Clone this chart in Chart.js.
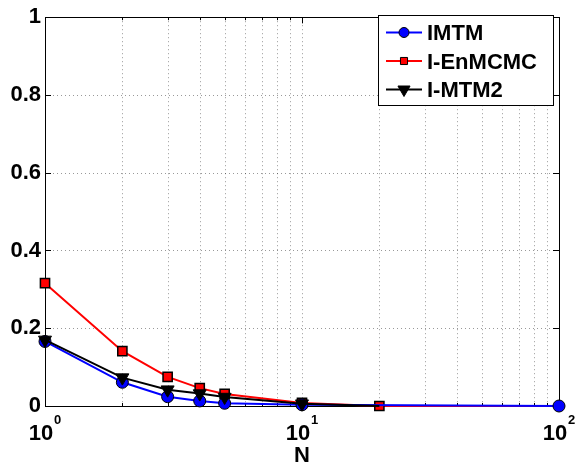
<!DOCTYPE html>
<html>
<head>
<meta charset="utf-8">
<script src="https://cdn.jsdelivr.net/npm/chart.js@4"></script>
<style>
  html, body { margin: 0; padding: 0; background: #fff; }
  #wrap { width: 577px; height: 468px; }
</style>
</head>
<body>
<div id="wrap"><canvas id="myChart"></canvas></div>
<script>
// data
let imtmN = [1, 2, 3, 4, 5, 10, 100];
let imtmVals = [0.166, 0.061, 0.024, 0.013, 0.007, 0.003, 0];
let enmcmcN = [1, 2, 3, 4, 5, 10, 20, 100];
let enmcmcVals = [0.316, 0.141, 0.075, 0.046, 0.031, 0.008, 0, 0];
let mtm2N = [1, 2, 3, 4, 5, 10, 20];
let mtm2Vals = [0.170, 0.073, 0.042, 0.032, 0.023, 0.006, 0];

let seriesNames = ['IMTM', 'I-EnMCMC', 'I-MTM2'];
let xDecades = [1, 10, 100];
let xExponents = ['0', '1', '2'];
let xGridVals = [2, 3, 4, 5, 6, 7, 8, 9, 10, 20, 30, 40, 50, 60, 70, 80, 90];
let yTicks = [0, 0.2, 0.4, 0.6, 0.8, 1];

let font = "'Liberation Sans', Arial, Helvetica, sans-serif";

function toPoints(xs, ys) {
  return xs.map((x, i) => ({ x: x, y: ys[i] }));
}

// grid, full box and inner ticks like matlab
let boxPlugin = {
  id: 'boxPlugin',
  beforeDatasetsDraw(chart) {
    let ctx = chart.ctx;
    let a = chart.chartArea;
    let xs = chart.scales.x, ys = chart.scales.y;
    ctx.save();
    ctx.lineWidth = 1;
    ctx.strokeStyle = 'rgba(0,0,0,0.4)';
    ctx.setLineDash([1, 3]);
    xGridVals.forEach(v => {
      let px = Math.round(xs.getPixelForValue(v)) + 0.5;
      ctx.beginPath(); ctx.moveTo(px, a.top); ctx.lineTo(px, a.bottom); ctx.stroke();
    });
    yTicks.forEach(v => {
      let py = Math.round(ys.getPixelForValue(v)) + 0.5;
      ctx.beginPath(); ctx.moveTo(a.left, py); ctx.lineTo(a.right, py); ctx.stroke();
    });
    ctx.setLineDash([]);
    ctx.strokeStyle = '#000';
    // ticks
    ctx.beginPath();
    yTicks.forEach(v => {
      let py = Math.round(ys.getPixelForValue(v)) + 0.5;
      ctx.moveTo(a.left, py); ctx.lineTo(a.left + 6, py);
      ctx.moveTo(a.right, py); ctx.lineTo(a.right - 6, py);
    });
    xGridVals.concat(xDecades).forEach(v => {
      let px = Math.round(xs.getPixelForValue(v)) + 0.5;
      let len = xDecades.indexOf(v) >= 0 ? 6 : 3;
      ctx.moveTo(px, a.bottom); ctx.lineTo(px, a.bottom - len);
      ctx.moveTo(px, a.top); ctx.lineTo(px, a.top + len);
    });
    ctx.stroke();
    ctx.strokeRect(Math.round(a.left) + 0.5, Math.round(a.top) + 0.5,
      Math.round(a.right - a.left), Math.round(a.bottom - a.top));
    ctx.restore();
  },
  afterDraw(chart) {
    let ctx = chart.ctx;
    let a = chart.chartArea;
    let xs = chart.scales.x;
    ctx.save();
    ctx.fillStyle = '#000';
    ctx.textBaseline = 'alphabetic';
    ctx.textAlign = 'left';
    // x tick labels 10^n
    xDecades.forEach((v, i) => {
      let px = xs.getPixelForValue(v);
      ctx.font = 'bold 22px ' + font;
      let w1 = ctx.measureText('10').width;
      ctx.font = 'bold 13px ' + font;
      let w2 = ctx.measureText(xExponents[i]).width;
      let x0 = px - (w1 + 1 + w2) / 2;
      ctx.font = 'bold 22px ' + font;
      ctx.fillText('10', x0, 440);
      ctx.font = 'bold 13px ' + font;
      ctx.fillText(xExponents[i], x0 + w1 + 1, 424);
    });
    // axis title
    ctx.font = 'bold 22px ' + font;
    ctx.textAlign = 'center';
    ctx.fillText('N', (a.left + a.right) / 2, 462);

    // legend
    ctx.fillStyle = '#fff';
    ctx.fillRect(378.5, 15.5, 175, 90);
    ctx.strokeStyle = '#000';
    ctx.lineWidth = 1;
    ctx.strokeRect(378.5, 15.5, 175, 90);
    let rows = [40, 68.5, 97];
    chart.data.datasets.forEach((ds, i) => {
      let cy = rows[i] - 7.5;
      ctx.strokeStyle = ds.borderColor;
      ctx.lineWidth = 2;
      ctx.beginPath(); ctx.moveTo(386, cy); ctx.lineTo(422, cy); ctx.stroke();
      ctx.fillStyle = ds.pointBackgroundColor;
      ctx.strokeStyle = '#000';
      ctx.lineWidth = 1;
      Chart.helpers.drawPoint(ctx, {
        pointStyle: ds.pointStyle,
        radius: ds.legendRadius,
        rotation: ds.pointRotation || 0,
        borderWidth: 1
      }, 404, cy);
      ctx.fillStyle = '#000';
      ctx.textAlign = 'left';
      ctx.font = 'bold 22px ' + font;
      ctx.fillText(ds.label, 427, rows[i]);
    });
    ctx.restore();
  }
};

let myChart = document.getElementById('myChart').getContext('2d');
let chart = new Chart(myChart, {
  type: 'line',
  data: {
    datasets: [
      {
        label: seriesNames[0],
        data: toPoints(imtmN, imtmVals),
        borderColor: '#0000ff',
        borderWidth: 2,
        pointStyle: 'circle',
        pointRadius: 6,
        legendRadius: 5,
        pointBackgroundColor: '#0000ff',
        pointBorderColor: '#000',
        pointBorderWidth: 1,
        clip: false,
        order: 1
      },
      {
        label: seriesNames[1],
        data: toPoints(enmcmcN, enmcmcVals),
        borderColor: '#ff0000',
        borderWidth: 2,
        pointStyle: 'rect',
        pointRadius: [6.5, 6.5, 6.5, 6.5, 6.5, 6.5, 6.5, 0],
        legendRadius: 5,
        pointBackgroundColor: '#ff0000',
        pointBorderColor: '#000',
        pointBorderWidth: 1.5,
        clip: false,
        order: 2
      },
      {
        label: seriesNames[2],
        data: toPoints(mtm2N, mtm2Vals),
        borderColor: '#000000',
        borderWidth: 2,
        pointStyle: 'triangle',
        pointRotation: 180,
        pointRadius: [7.5, 7.5, 7.5, 7.5, 7.5, 7.5, 0],
        legendRadius: 7,
        pointBackgroundColor: '#000000',
        pointBorderColor: '#000',
        pointBorderWidth: 1,
        clip: false,
        order: 0
      }
    ]
  },
  options: {
    responsive: true,
    maintainAspectRatio: false,
    animation: false,
    layout: { padding: { top: 10, right: 18, left: 0, bottom: 0 } },
    plugins: {
      legend: { display: false },
      tooltip: { enabled: false }
    },
    elements: { line: { tension: 0 } },
    scales: {
      x: {
        type: 'logarithmic',
        min: 1,
        max: 100,
        grid: { display: false },
        border: { display: false },
        ticks: { display: false },
        afterFit(scale) { scale.height = 62; }
      },
      y: {
        min: 0,
        max: 1,
        grid: { display: false, drawTicks: false },
        border: { display: false },
        ticks: {
          stepSize: 0.2,
          padding: 4,
          color: '#000',
          font: { family: font, size: 22, weight: 'bold' },
          callback: value => String(Number(value.toFixed(1)))
        },
        afterFit(scale) { scale.width = 45; }
      }
    }
  },
  plugins: [boxPlugin]
});
</script>
</body>
</html>
